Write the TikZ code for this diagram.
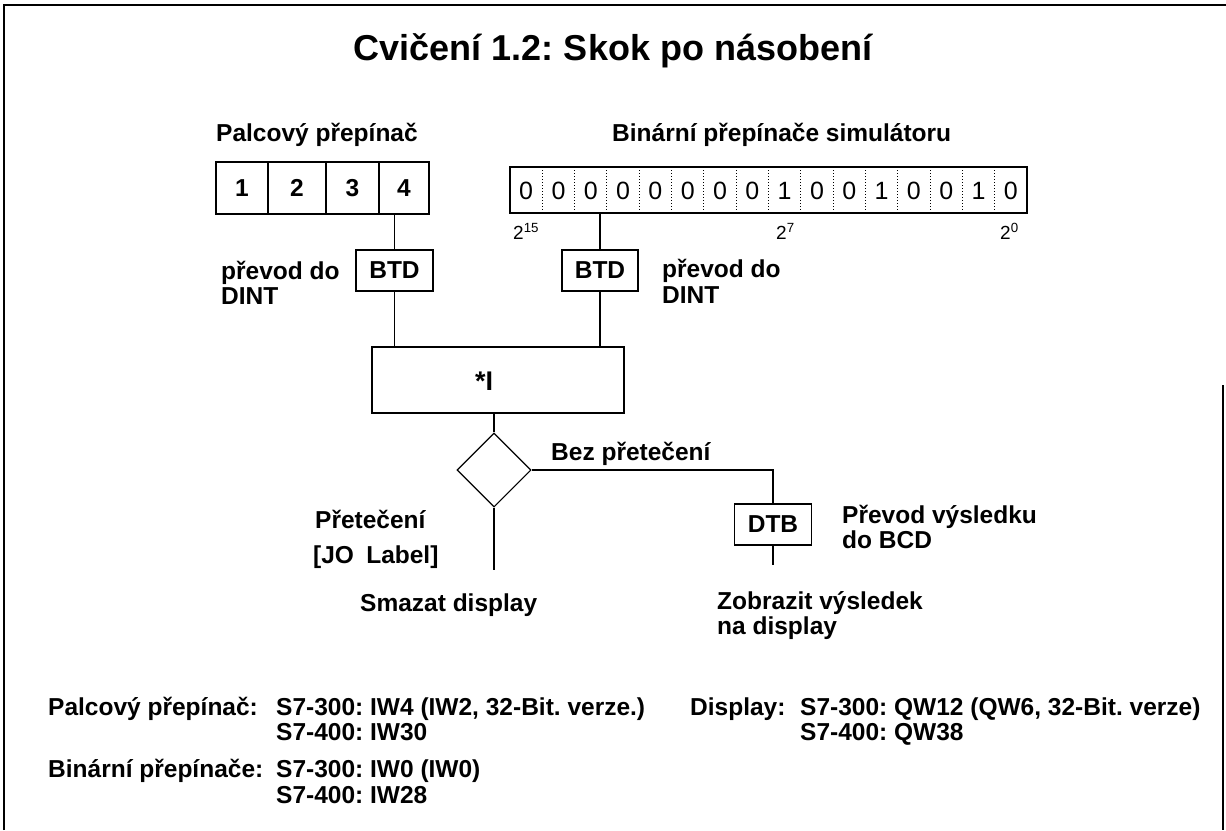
\documentclass[tikz,border=0pt]{standalone}
\usepackage{fontspec}
\setmainfont{Liberation Sans}
\usetikzlibrary{shapes.geometric}
\frenchspacing
\tikzset{
  lbl/.style={font=\fontsize{24.5}{26}\selectfont\bfseries, inner sep=0pt, anchor=base west},
  boxnode/.style={draw, line width=1.1pt, inner sep=0pt, font=\fontsize{24.5}{26}\selectfont\bfseries},
  bitdigit/.style={inner sep=0pt, font=\fontsize{25}{27}\selectfont},
  powlbl/.style={inner sep=0pt, anchor=base west, font=\fontsize{19}{21}\selectfont},
  conn/.style={line width=1.1pt},
}
\begin{document}
\frenchspacing
\begin{tikzpicture}[x=1pt,y=-1pt]
\useasboundingbox (0,0) rectangle (1226,830);
% frame
\draw[line width=1.5pt] (4,830) -- (4,5) -- (1226,5);
\draw[line width=1.5pt] (1223,385) -- (1223,830);
% title
\node[font=\fontsize{36}{40}\selectfont\bfseries, inner sep=0pt, anchor=base] (title) at (613,60) {Cvičení 1.2: Skok po násobení};
% thumbwheel
\node[lbl] (thumblbl) at (216,141) {Palcový přepínač};
\node[boxnode, minimum width=52pt, minimum height=52pt] (t1) at (242,188) {1};
\node[boxnode, minimum width=58pt, minimum height=52pt] (t2) at (297,188) {2};
\node[boxnode, minimum width=53pt, minimum height=52pt] (t3) at (352.5,188) {3};
\node[boxnode, minimum width=50pt, minimum height=52pt] (t4) at (404,188) {4};
% binary switches
\node[lbl] (binlbl) at (612,141) {Binární přepínače simulátoru};
\node[draw, line width=1.1pt, minimum width=517pt, minimum height=46pt, inner sep=0pt] (bin) at (768.5,190) {};
\foreach \k in {1,...,15} {
  \draw[dotted, line width=1pt] ({510+32.3125*\k},167) -- ({510+32.3125*\k},213);
}
\foreach \k/\b in {1/0,2/0,3/0,4/0,5/0,6/0,7/0,8/0,9/1,10/0,11/0,12/1,13/0,14/0,15/1,16/0} {
  \node[bitdigit] (b\k) at ({510+32.3125*(\k-0.5)},191) {\b};
}
\node[powlbl] (p15) at (513,239) {2\textsuperscript{15}};
\node[powlbl] (p7) at (776,239) {2\textsuperscript{7}};
\node[powlbl] (p0) at (1000,239) {2\textsuperscript{0}};
% BTD boxes
\node[boxnode, minimum width=77pt, minimum height=41pt] (btdL) at (394.5,270.5) {BTD};
\node[boxnode, minimum width=76pt, minimum height=41pt] (btdR) at (600,270.5) {BTD};
\node[lbl] (convL1) at (221,279) {převod do};
\node[lbl] (convL2) at (221,304) {DINT};
\node[lbl] (convR1) at (662,277) {převod do};
\node[lbl] (convR2) at (662,303) {DINT};
% multiply box
\node[draw, line width=1.1pt, minimum width=252pt, minimum height=66pt, inner sep=0pt] (mult) at (498,380) {};
\node[inner sep=0pt, font=\fontsize{27}{29}\selectfont\bfseries] (multtxt) at (484,381) {*I};
% diamond
\node[diamond, draw, line width=1.1pt, minimum width=74pt, minimum height=74pt, inner sep=0pt] (dia) at (494,470) {};
\node[lbl] (nooverflow) at (551,460) {Bez přetečení};
\node[lbl] (overflow1) at (315,528) {Přetečení};
\node[lbl] (overflow2) at (313,563) {[JO\hspace{0.5em}Label]};
\node[lbl] (clear) at (360,611) {Smazat display};
% DTB
\node[boxnode, minimum width=77pt, minimum height=41pt] (dtb) at (773,524.5) {DTB};
\node[lbl] (res1) at (842,523) {Převod výsledku};
\node[lbl] (res2) at (842,548) {do BCD};
\node[lbl] (show1) at (717,609) {Zobrazit výsledek};
\node[lbl] (show2) at (717,634) {na display};
\coordinate (diaend) at (494,570);
\coordinate (dtbend) at (773,565);
% connectors
\draw[conn] (btdL.north |- t4.south) -- (btdL.north);
\draw[conn] (btdR.north |- bin.south) -- (btdR.north);
\draw[conn] (btdL.south) -- (btdL.south |- mult.north);
\draw[conn] (btdR.south) -- (btdR.south |- mult.north);
\draw[conn] (dia.north |- mult.south) -- (dia.north);
\draw[conn] (dia.east) -| (dtb.north);
\draw[conn] (dia.south) -- (diaend);
\draw[conn] (dtb.south) -- (dtbend);
% bottom notes
\node[lbl] (n1a) at (48,715) {Palcový přepínač:};
\node[lbl] (n1b) at (276,715) {S7-300: IW4 (IW2, 32-Bit. verze.)};
\node[lbl] (n1c) at (276,740) {S7-400: IW30};
\node[lbl] (n2a) at (48,777) {Binární přepínače:};
\node[lbl] (n2b) at (276,777) {S7-300: IW0 (IW0)};
\node[lbl] (n2c) at (276,803) {S7-400: IW28};
\node[lbl] (n3a) at (690,715) {Display:};
\node[lbl] (n3b) at (800,715) {S7-300: QW12 (QW6, 32-Bit. verze)};
\node[lbl] (n3c) at (800,740) {S7-400: QW38};
\end{tikzpicture}
\end{document}
